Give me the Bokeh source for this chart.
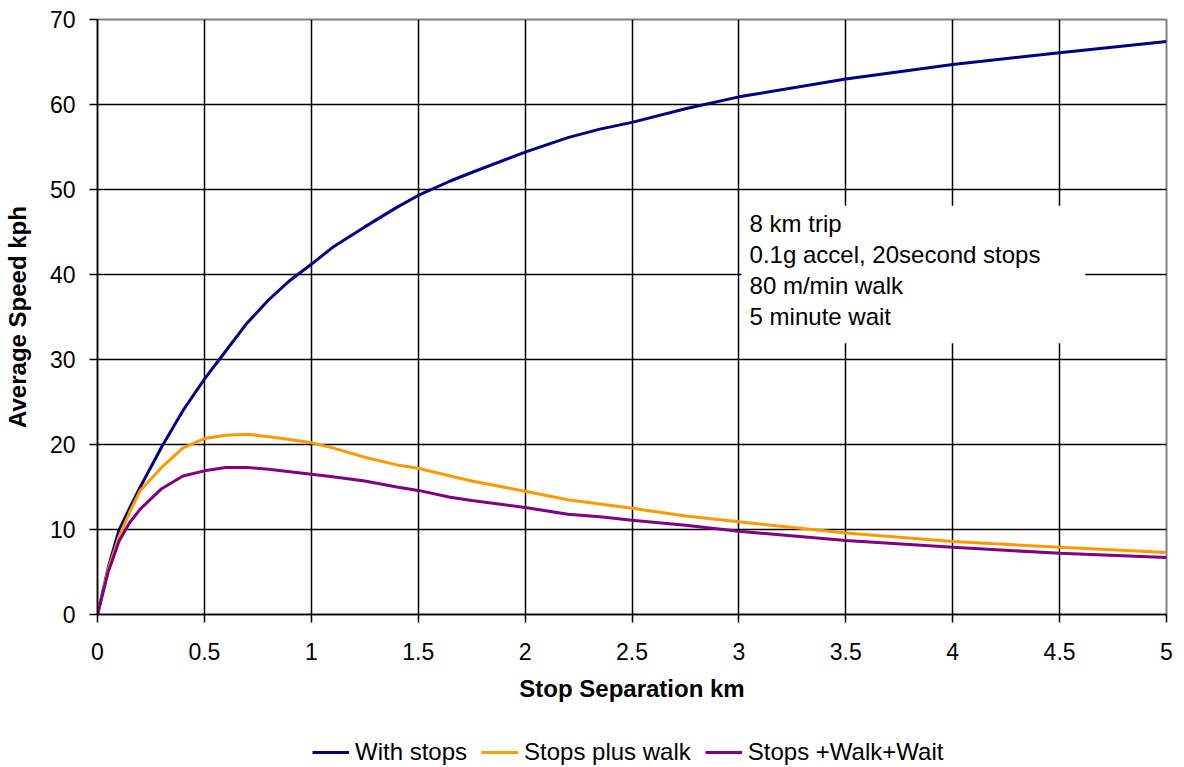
from bokeh.plotting import figure
from bokeh.layouts import column
from bokeh.models import (Range1d, SingleIntervalTicker, NumeralTickFormatter,
                          Legend, LegendItem, BoxAnnotation, Label)
from bokeh.embed import file_html
from bokeh.resources import INLINE

# ---- data ----
separation_km = [0, 0.05, 0.1, 0.15, 0.2, 0.3, 0.4, 0.5, 0.6, 0.7, 0.8, 0.9, 1.0,
                 1.1, 1.25, 1.4, 1.5, 1.65, 1.75, 2.0, 2.2, 2.35, 2.5, 2.75, 3.0,
                 3.5, 4.0, 4.5, 5.0]
with_stops = [0, 5.5, 9.9, 12.5, 15.0, 19.7, 24.0, 27.7, 31.0, 34.3, 37.0, 39.3, 41.2,
              43.2, 45.6, 47.9, 49.3, 51.0, 52.0, 54.4, 56.1, 57.1, 57.9, 59.5, 60.9,
              63.0, 64.7, 66.1, 67.4]
stops_plus_walk = [0, 5.3, 9.1, 12.0, 14.6, 17.3, 19.6, 20.7, 21.1, 21.2, 20.9, 20.6, 20.2,
                   19.6, 18.5, 17.6, 17.2, 16.3, 15.7, 14.5, 13.5, 13.0, 12.5, 11.6, 10.9,
                   9.6, 8.6, 7.9, 7.3]
stops_walk_wait = [0, 5.0, 8.6, 10.8, 12.4, 14.8, 16.3, 16.9, 17.3, 17.3, 17.1, 16.8, 16.5,
                   16.2, 15.7, 15.0, 14.6, 13.8, 13.4, 12.6, 11.8, 11.5, 11.1, 10.5, 9.8,
                   8.7, 7.9, 7.2, 6.7]
series_names = ["With stops", "Stops plus walk", "Stops +Walk+Wait"]
series_colors = ["#000080", "#FF9900", "#800080"]
note_lines = ["8 km trip", "0.1g accel, 20second stops", "80 m/min walk", "5 minute wait"]
x_title = "Stop Separation km"
y_title = "Average Speed kph"

FONT = "Liberation Sans"
W = 1176

p = figure(width=W, height=735,
           x_range=Range1d(0, 5), y_range=Range1d(0, 70),
           output_backend="svg", toolbar_location=None,
           min_border_left=97, min_border_right=10, min_border_top=19, min_border_bottom=121)
p.background_fill_color = "white"
p.border_fill_color = "white"
p.outline_line_color = "#808080"
p.outline_line_width = 2

p.xaxis.ticker = SingleIntervalTicker(interval=0.5, num_minor_ticks=0)
p.yaxis.ticker = SingleIntervalTicker(interval=10, num_minor_ticks=0)
p.xaxis.formatter = NumeralTickFormatter(format="0.[0]")
p.xgrid.ticker = p.xaxis.ticker
p.ygrid.ticker = p.yaxis.ticker

for ax in (p.xaxis, p.yaxis):
    ax.axis_line_color = "black"
    ax.axis_line_width = 1.5
    ax.major_tick_line_color = "black"
    ax.major_tick_line_width = 1.5
    ax.major_tick_in = 0
    ax.major_tick_out = 8
    ax.minor_tick_line_color = None
    ax.major_label_text_font = FONT
    ax.major_label_text_font_size = "23px"
    ax.major_label_text_color = "black"
    ax.axis_label_text_font = FONT
    ax.axis_label_text_font_size = "24px"
    ax.axis_label_text_font_style = "bold"
    ax.axis_label_text_color = "black"

p.xaxis.axis_label = x_title
p.yaxis.axis_label = y_title
p.xaxis.major_label_standoff = 20
p.yaxis.major_label_standoff = 14
p.xaxis.axis_label_standoff = 12
p.yaxis.axis_label_standoff = 16

for g in (p.xgrid, p.ygrid):
    g.grid_line_color = "black"
    g.grid_line_width = 1.5

series = [with_stops, stops_plus_walk, stops_walk_wait]
for vals, col in zip(series, series_colors):
    p.line(separation_km, vals, line_color=col, line_width=3)

# annotation text box
box = BoxAnnotation(left=3.012, right=4.62, bottom=31.9, top=48.1,
                    fill_color="white", fill_alpha=1.0, line_color=None)
p.add_layout(box)
for i, t in enumerate(note_lines):
    p.add_layout(Label(x=3.05, y=46.0 - i * 3.65, text=t, text_font=FONT,
                       text_font_size="24px", text_baseline="middle", text_color="black"))

# legend strip below the chart (same series, drawn outside its visible range;
# only the legend shows)
lf = figure(width=W, height=32, x_range=Range1d(100, 101), y_range=Range1d(100, 101),
            x_axis_type=None, y_axis_type=None, output_backend="svg",
            toolbar_location=None, min_border=0)
lf.outline_line_color = None
lf.background_fill_color = "white"
lf.border_fill_color = "white"
legend_renderers = [lf.line(separation_km, vals, line_color=c, line_width=3)
                    for vals, c in zip(series, series_colors)]
legend = Legend(items=[LegendItem(label=n, renderers=[r]) for n, r in zip(series_names, legend_renderers)],
                orientation="horizontal", location=(215, 1),
                label_text_font=FONT, label_text_font_size="24px", label_text_color="black",
                glyph_width=37, glyph_height=20, label_height=20, label_standoff=6,
                spacing=14, padding=0, margin=0,
                border_line_alpha=0, background_fill_alpha=0)
lf.add_layout(legend, "center")

layout = column(p, lf, spacing=0)
open("out.html", "w").write(file_html(layout, INLINE))
